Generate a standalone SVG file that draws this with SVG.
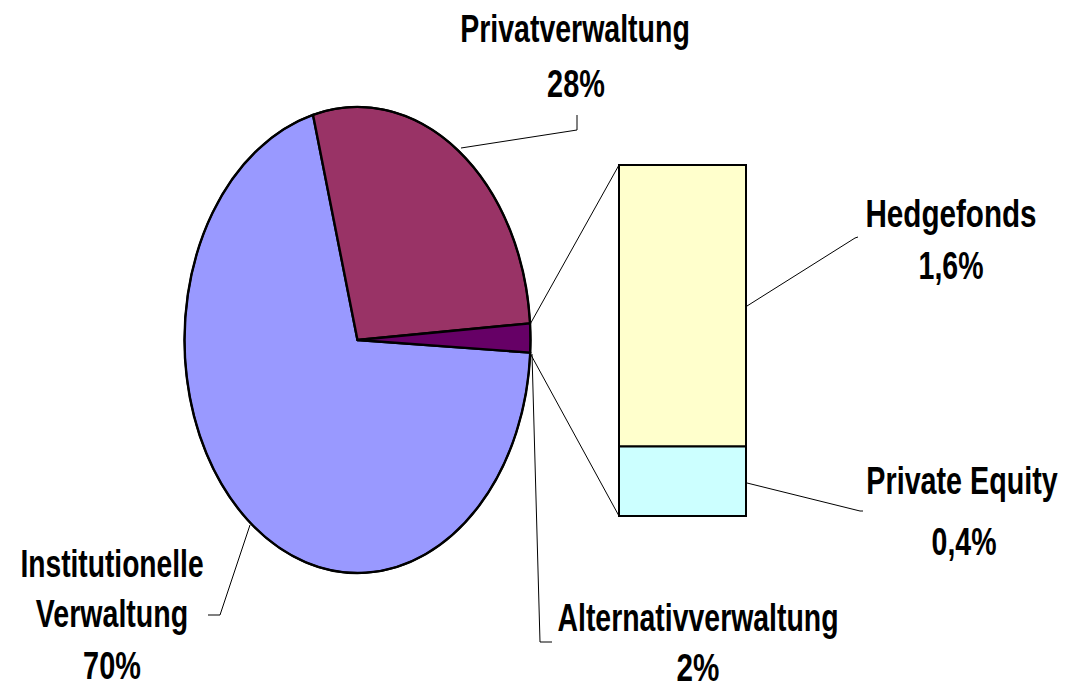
<svg xmlns="http://www.w3.org/2000/svg" width="1070" height="688" viewBox="0 0 1070 688">
  <style>
    .lbl { font-family: "Liberation Sans", Arial, sans-serif; font-weight: bold; font-size: 38px; fill: #000; text-anchor: middle; }
    .slice { stroke: #000; stroke-width: 2.4; stroke-linejoin: round; }
    .bar { stroke: #000; stroke-width: 2; }
    .lead { fill: none; stroke: #000; stroke-width: 1; }
  </style>
  <rect width="1070" height="688" fill="#fff"/>

  <!-- pie: centre (357.5,340), radii 173 x 233 -->
  <g id="slice-institutionelle">
    <path class="slice" fill="#9999FF" d="M357.5,340 L530.25,352.6 A173,233 0 1,1 313,114.8 Z"/>
  </g>
  <g id="slice-privat">
    <path class="slice" fill="#993366" d="M357.5,340 L313,114.8 A173,233 0 0,1 530.06,323.34 Z"/>
  </g>
  <g id="slice-alternativ">
    <path class="slice" fill="#660066" d="M357.5,340 L530.06,323.34 A173,233 0 0,1 530.25,352.6 Z"/>
  </g>
  <ellipse cx="357.5" cy="340" rx="173" ry="233" fill="none" stroke="#000" stroke-width="1.8"/>

  <!-- stacked bar breaking down the alternative share -->
  <g id="bar-hedgefonds">
    <rect class="bar" fill="#FFFFCC" x="619" y="165" width="127" height="281.5"/>
  </g>
  <g id="bar-private-equity">
    <rect class="bar" fill="#CCFFFF" x="619" y="446.5" width="127" height="69.5"/>
  </g>

  <g id="connectors">
    <line class="lead" x1="530.5" y1="323.5" x2="619" y2="165"/>
    <line class="lead" x1="530.5" y1="354" x2="619" y2="516"/>
    <polyline class="lead" points="461,148 577,130 577,115"/>
    <polyline class="lead" points="747,306 855,238 858,237"/>
    <polyline class="lead" points="747,483 860,511 863,511"/>
    <polyline class="lead" points="250,525 220,615 208,615"/>
    <polyline class="lead" points="532,354 540,642 552,642"/>
  </g>

  <!-- labels: bold sans, condensed horizontally -->
  <g id="label-privat">
    <text class="lbl" transform="translate(575,42) scale(0.75,1)">Privatverwaltung</text>
    <text class="lbl" transform="translate(576,97) scale(0.76,1)">28%</text>
  </g>
  <g id="label-hedgefonds">
    <text class="lbl" transform="translate(951,227) scale(0.78,1)">Hedgefonds</text>
    <text class="lbl" transform="translate(951,279) scale(0.75,1)">1,6%</text>
  </g>
  <g id="label-private-equity">
    <text class="lbl" transform="translate(962,494) scale(0.755,1)">Private Equity</text>
    <text class="lbl" transform="translate(964,555) scale(0.75,1)">0,4%</text>
  </g>
  <g id="label-alternativ">
    <text class="lbl" transform="translate(698,631) scale(0.748,1)">Alternativverwaltung</text>
    <text class="lbl" transform="translate(698,681) scale(0.78,1)">2%</text>
  </g>
  <g id="label-institutionelle">
    <text class="lbl" transform="translate(112,577) scale(0.742,1)">Institutionelle</text>
    <text class="lbl" transform="translate(112,627) scale(0.752,1)">Verwaltung</text>
    <text class="lbl" transform="translate(112,679) scale(0.76,1)">70%</text>
  </g>
</svg>
